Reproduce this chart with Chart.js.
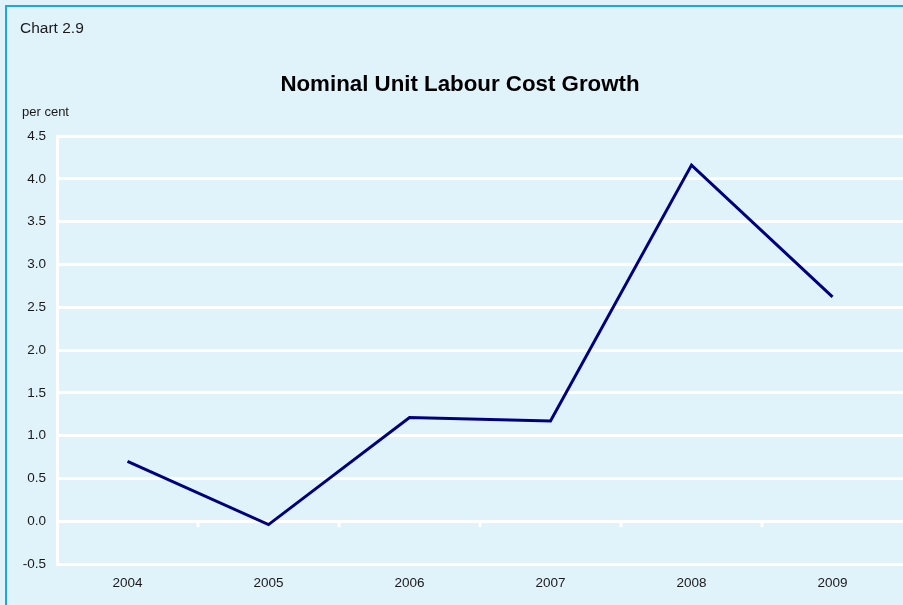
<!DOCTYPE html>
<html>
<head>
<meta charset="utf-8">
<script src="https://cdn.jsdelivr.net/npm/chart.js@4"></script>
<style>
  html, body { margin: 0; padding: 0; background: #ffffff; }
  #wrap {
    position: absolute; left: 0; top: 0; width: 903px; height: 605px;
    background: #e0f2fa; overflow: hidden;
  }
  #frame {
    position: absolute; left: 5px; top: 5px; width: 1000px; height: 1000px;
    border-left: 2px solid #1aa9e6; border-top: 2px solid #1aa9e6;
  }
  canvas { position: absolute; left: 0; top: 0; }
</style>
</head>
<body>
<div id="wrap">
  <div id="frame"></div>
  <canvas id="chart" width="903" height="605"></canvas>
</div>
<script>
const years = ['2004', '2005', '2006', '2007', '2008', '2009'];
const ulcGrowth = [0.70, -0.04, 1.21, 1.17, 4.16, 2.62];
const yTicks = [-0.5, 0, 0.5, 1, 1.5, 2, 2.5, 3, 3.5, 4, 4.5];

const FONT = '"Liberation Sans", Arial, Helvetica, sans-serif';

// headings plus the little tick marks along the zero line
const decorations = {
  id: 'decorations',
  afterDatasetsDraw(chart) {
    const ctx = chart.ctx;
    const x = chart.scales.x, y = chart.scales.y;
    ctx.save();
    ctx.fillStyle = '#1a1a1a';
    ctx.textBaseline = 'middle';
    ctx.textAlign = 'left';
    ctx.font = '15.5px ' + FONT;
    ctx.fillText('Chart 2.9', 20, 29);
    ctx.font = '13px ' + FONT;
    ctx.fillText('per cent', 22, 112);
    ctx.textAlign = 'center';
    ctx.font = 'bold 22.3px ' + FONT;
    ctx.fillStyle = '#000000';
    ctx.fillText('Nominal Unit Labour Cost Growth', 460, 85);

    const y0 = y.getPixelForValue(0);
    ctx.strokeStyle = '#ffffff';
    ctx.lineWidth = 3;
    for (let i = 1; i < years.length; i++) {
      const xm = (x.getPixelForValue(i - 1) + x.getPixelForValue(i)) / 2;
      ctx.beginPath();
      ctx.moveTo(xm, y0);
      ctx.lineTo(xm, y0 + 6);
      ctx.stroke();
    }
    ctx.restore();
  }
};

new Chart(document.getElementById('chart'), {
  type: 'line',
  data: {
    labels: years,
    datasets: [{
      data: ulcGrowth,
      borderColor: '#00007f',
      borderWidth: 3,
      borderJoinStyle: 'miter',
      pointRadius: 0,
      tension: 0,
      fill: false
    }]
  },
  options: {
    responsive: false,
    animation: false,
    layout: { padding: { top: 136, left: 0, right: 0, bottom: 0 } },
    plugins: { legend: { display: false }, title: { display: false }, tooltip: { enabled: false } },
    scales: {
      x: {
        offset: true,
        grid: { display: false, drawTicks: false },
        border: { display: false },
        ticks: { color: '#1a1a1a', font: { family: FONT, size: 13.5 }, padding: 11, maxRotation: 0 },
        afterFit(scale) { scale.height = 41; }
      },
      y: {
        min: -0.5,
        max: 4.5,
        afterBuildTicks(scale) { scale.ticks = yTicks.map(v => ({ value: v })); },
        grid: { color: '#ffffff', lineWidth: 3, drawTicks: false },
        border: { display: true, color: '#ffffff', width: 3 },
        ticks: {
          color: '#1a1a1a',
          font: { family: FONT, size: 13.5 },
          padding: 11,
          callback: v => v.toFixed(1)
        },
        afterFit(scale) { scale.width = 57; }
      }
    }
  },
  plugins: [decorations]
});
</script>
</body>
</html>
